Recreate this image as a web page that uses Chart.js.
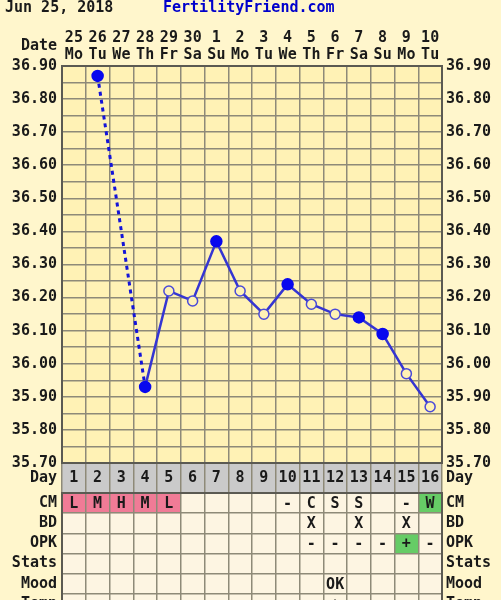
<!DOCTYPE html>
<html>
<head>
<meta charset="utf-8">
<script src="https://cdn.jsdelivr.net/npm/chart.js"></script>
<style>
  body { margin: 0; background: #fff6cc; width: 501px; height: 600px; overflow: hidden; position: relative; }
  canvas { position: absolute; left: 0; }
  #temps { top: 0; }
  #table { top: 492px; }
</style>
</head>
<body>
<canvas id="temps" width="501" height="493"></canvas>
<canvas id="table" width="501" height="122"></canvas>
<script>
var chartDate = 'Jun 25, 2018'
var siteName = 'FertilityFriend.com'

var dates = ['25', '26', '27', '28', '29', '30', '1', '2', '3', '4', '5', '6', '7', '8', '9', '10']
var weekdays = ['Mo', 'Tu', 'We', 'Th', 'Fr', 'Sa', 'Su', 'Mo', 'Tu', 'We', 'Th', 'Fr', 'Sa', 'Su', 'Mo', 'Tu']
var cycleDays = ['1', '2', '3', '4', '5', '6', '7', '8', '9', '10', '11', '12', '13', '14', '15', '16']

// temps in C, null = not recorded
var temps = [null, 36.87, null, 35.93, 36.22, 36.19, 36.37, 36.22, 36.15, 36.24, 36.18, 36.15, 36.14, 36.09, 35.97, 35.87]
var openCircle = [false, false, false, false, true, true, false, true, true, false, true, true, false, false, true, true]

var rowNames = ['CM', 'BD', 'OPK', 'Stats', 'Mood', 'Temp']
var cmRow = ['L', 'M', 'H', 'M', 'L', '', '', '', '', '-', 'C', 'S', 'S', '', '-', 'W']
var bdRow = ['', '', '', '', '', '', '', '', '', '', 'X', '', 'X', '', 'X', '']
var opkRow = ['', '', '', '', '', '', '', '', '', '', '-', '-', '-', '-', '+', '-']
var statsRow = ['', '', '', '', '', '', '', '', '', '', '', '', '', '', '', '']
var moodRow = ['', '', '', '', '', '', '', '', '', '', '', 'OK', '', '', '', '']
var lastRow = ['', '', '', '', '', '', '', '', '', '', '', '+', '', '', '', '']

var tableRows = [cmRow, bdRow, opkRow, statsRow, moodRow, lastRow]

var mono = 'DejaVu Sans Mono'
var tickFont = { family: mono, size: 15, weight: 'bold', lineHeight: 17 / 15 }
var textColor = '#1a1a1a'
var gridColor = '#8e8a78'
var edgeColor = '#5b5a52'
var pink = '#f07b96'
var green = '#66cc66'

var cellColors = {
  CM: { L: pink, M: pink, H: pink, W: green },
  OPK: { '+': green }
}

// segment crosses a missing day
var isGap = function(c) {
  return c.p0.skip || c.p1.skip
}

var halfTicks = function(scale) {
  var t = []
  for (var i = 0; i <= 24; i++) t.push({ value: +(35.7 + i * 0.05).toFixed(2) })
  scale.ticks = t
}

var tempLabel = function(v) {
  return Math.round(v * 100) % 10 === 0 ? v.toFixed(2) : ''
}

var noPad = function(s) {
  s.paddingTop = 0
  s.paddingBottom = 0
}

var plotPaint = {
  id: 'plotPaint',
  beforeDraw: function(chart) {
    var ctx = chart.ctx, a = chart.chartArea, band = chart.scales.xd
    ctx.save()
    ctx.fillStyle = '#fff2b5'
    ctx.fillRect(a.left, a.top, a.right - a.left, a.bottom - a.top)
    ctx.fillStyle = '#cacaca'
    ctx.fillRect(a.left, band.top, a.right - a.left, band.bottom - band.top)
    ctx.restore()
  },
  afterDraw: function(chart) {
    var ctx = chart.ctx, a = chart.chartArea, band = chart.scales.xd
    var mid = (band.top + band.bottom) / 2
    ctx.save()
    ctx.font = 'bold 15px "' + mono + '"'
    ctx.textBaseline = 'middle'
    ctx.fillStyle = textColor
    ctx.fillText(chartDate, 5, 8)
    ctx.fillStyle = '#0000cc'
    ctx.fillText(siteName, 163, 8)
    ctx.fillStyle = textColor
    ctx.textAlign = 'right'
    ctx.fillText('Date', a.left - 5, 46)
    ctx.fillText('Day', a.left - 5, mid)
    ctx.textAlign = 'left'
    ctx.fillText('Day', a.right + 4, mid)
    ctx.restore()
  }
}

new Chart(document.getElementById('temps'), {
  type: 'line',
  data: {
    labels: dates.map(function(d, i) { return [d, weekdays[i]] }),
    datasets: [{
      data: temps,
      spanGaps: true,
      borderColor: '#3535d2',
      borderWidth: 2.5,
      segment: {
        borderDash: function(c) { return isGap(c) ? [4, 4] : undefined },
        borderWidth: function(c) { return isGap(c) ? 3 : undefined },
        borderColor: function(c) { return isGap(c) ? '#1414d8' : undefined }
      },
      pointRadius: function(c) { return openCircle[c.dataIndex] ? 5 : 5.5 },
      pointBackgroundColor: function(c) { return openCircle[c.dataIndex] ? '#fff2b5' : '#0808ee' },
      pointBorderColor: function(c) { return openCircle[c.dataIndex] ? '#4a4ad8' : '#0808ee' },
      pointBorderWidth: 1.5
    }]
  },
  options: {
    responsive: false,
    animation: false,
    layout: { padding: 0 },
    plugins: { legend: { display: false }, tooltip: { enabled: false } },
    scales: {
      x: {
        position: 'top',
        offset: true,
        grid: { offset: true, color: gridColor, lineWidth: 1.5, drawTicks: false },
        border: { color: edgeColor, width: 2 },
        ticks: { font: tickFont, color: textColor, padding: 2.5, maxRotation: 0, autoSkip: false },
        afterFit: function(s) { s.height = 66 }
      },
      xd: {
        type: 'category',
        labels: cycleDays,
        position: 'bottom',
        offset: true,
        grid: { offset: true, drawOnChartArea: false, drawTicks: true, tickLength: 30, color: gridColor, lineWidth: 1.5 },
        border: { color: edgeColor, width: 2 },
        ticks: { font: tickFont, color: textColor, padding: -23, maxRotation: 0, autoSkip: false },
        afterFit: function(s) { s.height = 30 }
      },
      y: {
        position: 'left',
        min: 35.7,
        max: 36.9,
        afterBuildTicks: halfTicks,
        grid: { color: gridColor, lineWidth: 1.5, drawTicks: false },
        border: { color: edgeColor, width: 2 },
        ticks: { font: tickFont, color: textColor, padding: 5, autoSkip: false, callback: tempLabel },
        afterFit: function(s) { s.width = 62 }
      },
      y2: {
        position: 'right',
        min: 35.7,
        max: 36.9,
        afterBuildTicks: halfTicks,
        grid: { drawOnChartArea: false, drawTicks: false },
        border: { color: edgeColor, width: 2 },
        ticks: { font: tickFont, color: textColor, padding: 4, autoSkip: false, callback: tempLabel },
        afterFit: function(s) { s.width = 59 }
      }
    }
  },
  plugins: [plotPaint]
})

var tablePaint = {
  id: 'tablePaint',
  beforeDraw: function(chart) {
    var ctx = chart.ctx, a = chart.chartArea, x = chart.scales.x, y = chart.scales.y
    var w = x.getPixelForValue(1) - x.getPixelForValue(0)
    var h = y.getPixelForValue(1) - y.getPixelForValue(0)
    ctx.save()
    ctx.fillStyle = '#fdf5e2'
    ctx.fillRect(a.left, a.top, a.right - a.left, a.bottom - a.top)
    tableRows.forEach(function(row, r) {
      var colors = cellColors[rowNames[r]]
      if (!colors) return
      row.forEach(function(val, i) {
        if (!colors[val]) return
        ctx.fillStyle = colors[val]
        ctx.fillRect(x.getPixelForValue(i) - w / 2, y.getPixelForValue(r) - h / 2, w, h)
      })
    })
    ctx.restore()
  },
  afterDraw: function(chart) {
    var ctx = chart.ctx, x = chart.scales.x, y = chart.scales.y
    ctx.save()
    ctx.font = 'bold 15px "' + mono + '"'
    ctx.textAlign = 'center'
    ctx.textBaseline = 'middle'
    ctx.fillStyle = textColor
    tableRows.forEach(function(row, r) {
      row.forEach(function(val, i) {
        if (val) ctx.fillText(val, x.getPixelForValue(i), y.getPixelForValue(r) + 1)
      })
    })
    ctx.restore()
  }
}

new Chart(document.getElementById('table'), {
  type: 'line',
  data: { labels: cycleDays, datasets: [] },
  options: {
    responsive: false,
    animation: false,
    layout: { padding: { top: 1 } },
    plugins: { legend: { display: false }, tooltip: { enabled: false } },
    scales: {
      x: {
        position: 'top',
        offset: true,
        grid: { offset: true, color: gridColor, lineWidth: 1.5, drawTicks: false },
        border: { color: edgeColor, width: 2 },
        ticks: { display: false },
        afterFit: function(s) { s.height = 0 }
      },
      y: {
        type: 'category',
        labels: rowNames,
        position: 'left',
        offset: true,
        grid: { offset: true, color: gridColor, lineWidth: 1.5, drawTicks: false },
        border: { color: edgeColor, width: 2 },
        ticks: { font: tickFont, color: textColor, padding: 5, autoSkip: false },
        afterFit: function(s) { s.width = 62; noPad(s) }
      },
      y2: {
        type: 'category',
        labels: rowNames,
        position: 'right',
        offset: true,
        grid: { drawOnChartArea: false, drawTicks: false },
        border: { color: edgeColor, width: 2 },
        ticks: { font: tickFont, color: textColor, padding: 4, autoSkip: false },
        afterFit: function(s) { s.width = 59; noPad(s) }
      }
    }
  },
  plugins: [tablePaint]
})
</script>
</body>
</html>
